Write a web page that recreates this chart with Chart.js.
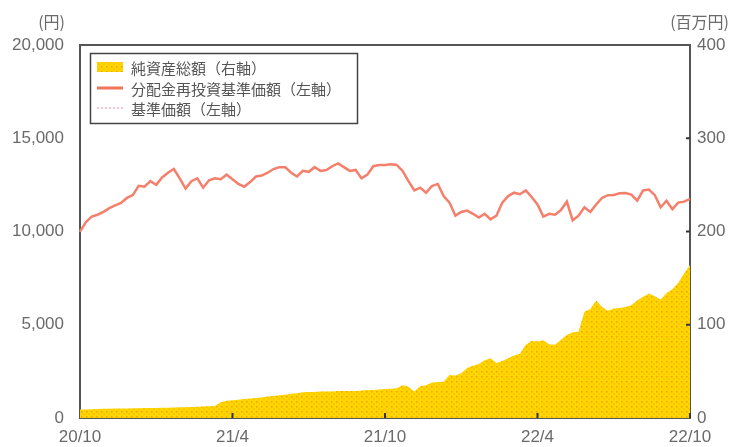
<!DOCTYPE html>
<html><head><meta charset="utf-8">
<script src="https://cdn.jsdelivr.net/npm/chart.js@4"></script>
<style>html,body{margin:0;padding:0;background:#fff;}#wrap{width:730px;height:447px;position:relative}</style>
</head><body><div id="wrap"><canvas id="c" width="730" height="447"></canvas></div>
<script>
// ---- data (weekly, 2020/10 – 2022/10) ----
const tickLabels = ['20/10', '21/4', '21/10', '22/4', '22/10'];
const seriesNames = ['純資産総額（右軸）', '分配金再投資基準価額（左軸）', '基準価額（左軸）'];
const leftUnit = '(円)';
const rightUnit = '(百万円)';
const leftTicks = [0, 5000, 10000, 15000, 20000];
const rightTicks = [0, 100, 200, 300, 400];

// 分配金再投資基準価額 (円)
const navReinvest = [
  9990, 10500, 10800, 10900, 11050, 11250, 11400, 11530, 11800, 11950,
  12450, 12400, 12700, 12500, 12900, 13150, 13350, 12850, 12300, 12700,
  12850, 12350, 12750, 12850, 12800, 13050, 12800, 12550, 12400, 12650,
  12950, 13000, 13150, 13350, 13450, 13450, 13150, 12950, 13250, 13200,
  13450, 13250, 13300, 13500, 13650, 13450, 13250, 13300, 12850, 13050,
  13500, 13570, 13570, 13600, 13570, 13250, 12700, 12200, 12350, 12080,
  12440, 12550, 11900, 11550, 10850, 11050, 11120, 10950, 10750, 10950,
  10650, 10850, 11550, 11900, 12080, 12000, 12200, 11850, 11450, 10800,
  10950, 10900, 11150, 11600, 10600, 10850, 11300, 11050, 11450, 11800,
  11950, 11960, 12050, 12060, 11980, 11650, 12200, 12250, 11950, 11300,
  11650, 11200, 11550, 11600, 11750
];
// 基準価額 (円) – no distributions paid, identical to the reinvested series
const nav = [
  9990, 10500, 10800, 10900, 11050, 11250, 11400, 11530, 11800, 11950,
  12450, 12400, 12700, 12500, 12900, 13150, 13350, 12850, 12300, 12700,
  12850, 12350, 12750, 12850, 12800, 13050, 12800, 12550, 12400, 12650,
  12950, 13000, 13150, 13350, 13450, 13450, 13150, 12950, 13250, 13200,
  13450, 13250, 13300, 13500, 13650, 13450, 13250, 13300, 12850, 13050,
  13500, 13570, 13570, 13600, 13570, 13250, 12700, 12200, 12350, 12080,
  12440, 12550, 11900, 11550, 10850, 11050, 11120, 10950, 10750, 10950,
  10650, 10850, 11550, 11900, 12080, 12000, 12200, 11850, 11450, 10800,
  10950, 10900, 11150, 11600, 10600, 10850, 11300, 11050, 11450, 11800,
  11950, 11960, 12050, 12060, 11980, 11650, 12200, 12250, 11950, 11300,
  11650, 11200, 11550, 11600, 11750
];
// 純資産総額 (百万円)
const netAssets = [
  9, 9.2, 9.4, 9.6, 9.8, 10, 10.1, 10.2, 10.3, 10.4,
  10.5, 10.6, 10.7, 10.8, 10.9, 11, 11.2, 11.4, 11.6, 11.8,
  12, 12.2, 12.5, 13, 17, 18.5, 19, 19.5, 20.5, 21,
  21.5, 22, 23, 23.5, 24.5, 25, 26, 26.5, 27.5, 28,
  28, 28.5, 28.5, 28.5, 29, 29, 29, 29, 29.5, 30,
  30, 30.5, 31, 31.5, 32, 35, 33.5, 28.5, 34, 35,
  38, 38.5, 39, 46, 45.5, 48, 53.5, 56, 58, 62,
  64, 59, 61, 64, 67, 69, 78.5, 82.5, 82, 83.5,
  79, 78.5, 84, 89, 92, 92.5, 114, 117, 126, 119,
  115, 117.5, 118, 119, 121, 126, 130, 133.5, 130.5, 127,
  134, 138, 145, 155, 164
];
const weeks = navReinvest.map((_, i) => String(i));
const weeksPerTick = (navReinvest.length - 1) / (tickLabels.length - 1);

// ---- styling helpers ----
function dotPattern() {
  const p = document.createElement('canvas');
  p.width = 5; p.height = 5;
  const g = p.getContext('2d');
  g.fillStyle = '#FFD600';
  g.fillRect(0, 0, 5, 5);
  g.fillStyle = '#F0A000';
  g.fillRect(1, 1, 1.5, 1.5);
  g.fillRect(3.5, 3.5, 1, 1);
  return g.createPattern(p, 'repeat');
}
const areaFill = dotPattern();
const axisColor = '#555';
const textColor = '#6a6a6a';
const tickFont = { family: '"Liberation Sans", Arial, sans-serif', size: 17 };

const framePlugin = {
  id: 'frame',
  afterDraw(chart) {
    const { ctx, chartArea: a, scales } = chart;
    ctx.save();
    // top border
    ctx.strokeStyle = axisColor; ctx.lineWidth = 2;
    ctx.beginPath(); ctx.moveTo(a.left - 1, a.top); ctx.lineTo(a.right + 1, a.top); ctx.stroke();
    // inward ticks on x axis
    ctx.strokeStyle = '#333'; ctx.lineWidth = 2;
    for (let k = 1; k < tickLabels.length; k++) {
      const x = scales.x.getPixelForValue(Math.round(k * weeksPerTick));
      ctx.beginPath(); ctx.moveTo(x, a.bottom); ctx.lineTo(x, a.bottom - 5); ctx.stroke();
    }
    // inward ticks on right axis
    for (let k = 1; k < rightTicks.length - 1; k++) {
      const y = scales.y1.getPixelForValue(rightTicks[k]);
      ctx.beginPath(); ctx.moveTo(a.right, y); ctx.lineTo(a.right - 4, y); ctx.stroke();
    }
    // unit labels
    ctx.fillStyle = textColor;
    ctx.font = '16px "Noto Sans CJK JP", sans-serif';
    ctx.textBaseline = 'middle';
    ctx.textAlign = 'right';
    ctx.fillText(leftUnit, 65, 22);
    ctx.fillText(rightUnit, 729, 22);
    // legend
    const lx = 90, ly = 53, lw = 267, lh = 70;
    ctx.fillStyle = '#fff';
    ctx.fillRect(lx, ly, lw, lh);
    ctx.strokeStyle = '#444'; ctx.lineWidth = 1.5;
    ctx.strokeRect(lx + 0.5, ly + 0.5, lw, lh);
    const rows = [67, 88, 108];
    ctx.fillStyle = areaFill;
    ctx.fillRect(97, rows[0] - 5, 26, 10);
    ctx.strokeStyle = '#F07458'; ctx.lineWidth = 3;
    ctx.beginPath(); ctx.moveTo(97, rows[1]); ctx.lineTo(123, rows[1]); ctx.stroke();
    ctx.strokeStyle = '#F2B4C0'; ctx.lineWidth = 1.5; ctx.setLineDash([2, 2]);
    ctx.beginPath(); ctx.moveTo(97, rows[2]); ctx.lineTo(123, rows[2]); ctx.stroke();
    ctx.setLineDash([]);
    ctx.fillStyle = '#555';
    ctx.font = '15px "Noto Sans CJK JP", sans-serif';
    ctx.textAlign = 'left';
    seriesNames.forEach((n, i) => ctx.fillText(n, 131, rows[i] + 1));
    ctx.restore();
  }
};

new Chart(document.getElementById('c'), {
  type: 'line',
  data: {
    labels: weeks,
    datasets: [
      { label: seriesNames[1], data: navReinvest, yAxisID: 'y', order: 0,
        borderColor: '#F4806C', borderWidth: 2.5, pointRadius: 0, fill: false, tension: 0 },
      { label: seriesNames[2], data: nav, yAxisID: 'y', order: 1,
        borderColor: '#F2B4C0', borderWidth: 1.5, borderDash: [2, 2], pointRadius: 0, fill: false, tension: 0 },
      { label: seriesNames[0], data: netAssets, yAxisID: 'y1', order: 2,
        borderWidth: 0, borderColor: 'rgba(0,0,0,0)', backgroundColor: areaFill,
        pointRadius: 0, fill: 'origin', tension: 0 }
    ]
  },
  options: {
    responsive: false,
    animation: false,
    devicePixelRatio: 1,
    layout: { padding: { top: 45, left: 0, right: 0, bottom: 0 } },
    plugins: { legend: { display: false }, tooltip: { enabled: false }, title: { display: false } },
    scales: {
      x: {
        type: 'category', offset: false,
        grid: { display: false, drawTicks: false },
        border: { display: true, color: axisColor, width: 2 },
        ticks: {
          autoSkip: false, maxRotation: 0, color: textColor, font: tickFont, padding: 9,
          callback: (v, i) => (i % weeksPerTick === 0 ? tickLabels[i / weeksPerTick] : null)
        },
        afterFit: s => { s.height = 29; }
      },
      y: {
        position: 'left', min: leftTicks[0], max: leftTicks[leftTicks.length - 1],
        grid: { display: false, drawTicks: false },
        border: { display: true, color: axisColor, width: 2 },
        ticks: { stepSize: leftTicks[1] - leftTicks[0], color: textColor, font: tickFont, padding: 16,
          callback: v => v.toLocaleString('en-US') },
        afterFit: s => { s.width = 80; }
      },
      y1: {
        position: 'right', min: rightTicks[0], max: rightTicks[rightTicks.length - 1],
        grid: { display: false, drawTicks: false },
        border: { display: true, color: axisColor, width: 2 },
        ticks: { stepSize: rightTicks[1] - rightTicks[0], color: textColor, font: tickFont, padding: 7 },
        afterFit: s => { s.width = 40; }
      }
    }
  },
  plugins: [framePlugin]
});
</script>
</body></html>
